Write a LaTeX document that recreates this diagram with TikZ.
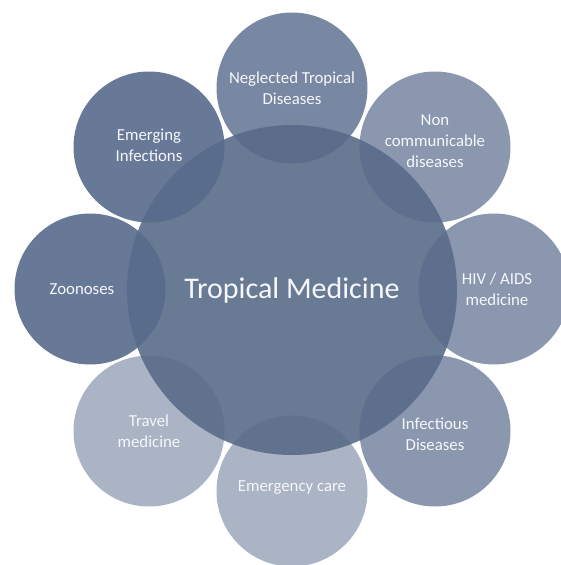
\documentclass[tikz,border=0pt]{standalone}
\usepackage{fontspec}
\setmainfont{Carlito}
\usepackage{tikz}
\definecolor{MedCore}{RGB}{89,107,138}
\definecolor{RingDeep}{RGB}{104,121,151}
\definecolor{RingMid}{RGB}{121,136,162}
\definecolor{RingSoft}{RGB}{138,151,174}
\definecolor{RingPale}{RGB}{171,180,196}
\definecolor{LabelWhite}{RGB}{246,247,250}

\tikzset{
  ring/.style={circle, minimum size=151pt, inner sep=0pt, outer sep=0pt, fill=#1},
  ringlabel/.style={align=center, text=LabelWhite, inner sep=0pt,
    font=\fontsize{16.8}{21}\selectfont},
}

\begin{document}
\begin{tikzpicture}[x=1pt,y=-1pt]
\useasboundingbox (0,0) rectangle (561,565);

% outer ring of topics
\node[ring=RingMid]  (ntd) at (292,88)  {};
\node[ring=RingSoft] (ncd) at (435,147) {};
\node[ring=RingSoft] (hiv) at (494,289) {};
\node[ring=RingSoft] (inf) at (435,431) {};
\node[ring=RingPale] (emc) at (292,491) {};
\node[ring=RingPale] (trv) at (149,431) {};
\node[ring=RingDeep] (zoo) at (90,289)  {};
\node[ring=RingDeep] (emi) at (149,147) {};

% big see-through disc in the middle
\node[
  circle,
  minimum size=330pt,
  inner sep=0pt,
  fill=MedCore,
  fill opacity=0.9,
  text opacity=1,
  text=LabelWhite,
  font=\fontsize{30}{34}\selectfont
] (core) at (292,290) {Tropical Medicine};

% labels
\node[ringlabel] at (ntd.center) {Neglected Tropical\\Diseases};
\node[ringlabel] at ([yshift=6pt]ncd.center) {Non\\communicable\\diseases};
\node[ringlabel] at ([xshift=3pt]hiv.center) {HIV / AIDS\\medicine};
\node[ringlabel] at ([yshift=-3pt]inf.center) {Infectious\\Diseases};
\node[ringlabel] at ([yshift=3pt]emc.center) {Emergency care};
\node[ringlabel] at (trv.center) {Travel\\medicine};
\node[ringlabel] at ([xshift=-8pt]zoo.center) {Zoonoses};
\node[ringlabel] at ([yshift=2pt]emi.center) {Emerging\\Infections};
\end{tikzpicture}
\end{document}
